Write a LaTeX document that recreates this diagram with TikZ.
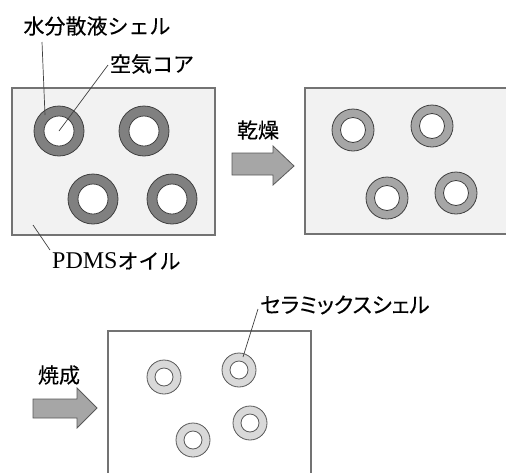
\documentclass[tikz,border=0pt]{standalone}
\usepackage{fontspec}
\setmainfont{Liberation Serif}
\newfontfamily\jp[FakeBold=0.3]{Noto Sans CJK JP}
\newfontfamily\jpp[FakeBold=0.3,RawFeature=+palt]{Noto Sans CJK JP}
\begin{document}
\begin{tikzpicture}[x=1pt,y=-1pt,
  panel/.style={draw=black!55,line width=1.1pt},
  lbl/.style={font=\jp\fontsize{21}{24}\selectfont,inner sep=0pt},
  leader/.style={draw=black!75,line width=0.7pt},
  ringA/.style={circle,draw=black!75,line width=0.8pt,fill=black!50,minimum size=50pt,inner sep=0pt},
  coreA/.style={circle,draw=black!75,line width=0.8pt,fill=white,minimum size=30pt,inner sep=0pt},
  ringB/.style={circle,draw=black!75,line width=0.8pt,fill=black!35,minimum size=42pt,inner sep=0pt},
  coreB/.style={circle,draw=black!75,line width=0.8pt,fill=white,minimum size=25pt,inner sep=0pt},
  ringC/.style={circle,draw=black!65,line width=0.8pt,fill=black!15,minimum size=34pt,inner sep=0pt},
  coreC/.style={circle,draw=black!65,line width=0.8pt,fill=white,minimum size=18pt,inner sep=0pt},
  fatarrow/.style={draw=black!65,line width=0.8pt,fill=black!35}]
\useasboundingbox (0,0) rectangle (506,472);
\begin{scope}
\clip (0,0) rectangle (506,472);
% panels
\draw[panel,fill=black!5] (12,88) rectangle (215,235);
\draw[panel,fill=black!5] (305,88) rectangle (520,234);
\draw[panel,fill=white] (108,331) rectangle (311,480);
% panel 1 rings
\foreach \n/\x/\y in {a1/59/131,a2/144/131,a3/93/199,a4/172/199}{
  \node[ringA] (\n) at (\x,\y) {};
  \node[coreA] (\n c) at (\x,\y) {};
}
% panel 2 rings
\foreach \n/\x/\y in {b1/353/130,b2/432/126,b3/387/198,b4/456/193}{
  \node[ringB] (\n) at (\x,\y) {};
  \node[coreB] (\n c) at (\x,\y) {};
}
% panel 3 rings
\foreach \n/\x/\y in {c1/164/377,c2/239/370,c3/193/440,c4/250/423}{
  \node[ringC] (\n) at (\x,\y) {};
  \node[coreC] (\n c) at (\x,\y) {};
}
% arrows
\draw[fatarrow] (232,153) -- (273,153) -- (273,146) -- (294,166) -- (273,185) -- (273,175) -- (232,175) -- cycle;
\draw[fatarrow] (33,399) -- (77,399) -- (77,388) -- (97,408) -- (77,428) -- (77,418) -- (33,418) -- cycle;
% labels
\node[lbl] (shell) at (97,26) {水分散液シェル};
\node[lbl] (core) at (152,64) {空気コア};
\node[lbl,anchor=west] (oil) at (52,261) {{\rmfamily\fontsize{24}{26}\selectfont PDMS}オイル};
\node[lbl] (dry) at (258,130) {乾燥};
\node[lbl] (fire) at (59,375) {焼成};
\node[lbl,anchor=west,font=\jpp\fontsize{21.5}{24}\selectfont] (cer) at (260,305) {セラミックスシェル};
% leaders
\coordinate (shellend) at (45,115);
\coordinate (oilend) at (33,225);
\coordinate (cerend) at (243,357);
\draw[leader] (42,42) -- (shellend);
\draw[leader] (108,65) -- (a1c.center);
\draw[leader] (oilend) -- (50,250);
\draw[leader] (258,309) -- (cerend);
\end{scope}
\end{tikzpicture}
\end{document}
